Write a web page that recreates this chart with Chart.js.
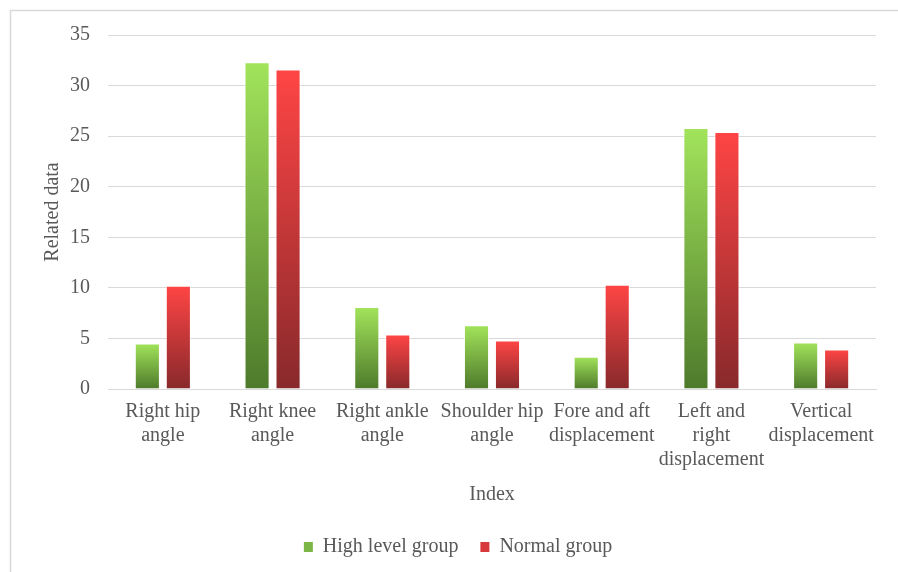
<!DOCTYPE html>
<html>
<head>
<meta charset="utf-8">
<script src="https://cdn.jsdelivr.net/npm/chart.js@4/dist/chart.umd.min.js"></script>
<style>
  html, body { margin: 0; padding: 0; background: #ffffff; overflow: hidden; }
  #wrap { width: 898px; height: 572px; position: relative; }
</style>
</head>
<body>
<div id="wrap"><canvas id="chart" width="898" height="572"></canvas></div>
<script>
// Motion-analysis indices compared between the two groups
const categories = [
  ['Right hip', 'angle'],
  ['Right knee', 'angle'],
  ['Right ankle', 'angle'],
  ['Shoulder hip', 'angle'],
  ['Fore and aft', 'displacement'],
  ['Left and', 'right', 'displacement'],
  ['Vertical', 'displacement']
];
const highLevelGroup = [4.5, 32.3, 8.1, 6.3, 3.2, 25.8, 4.6];
const normalGroup    = [10.2, 31.6, 5.4, 4.8, 10.3, 25.4, 3.9];
const yTicks = [0, 5, 10, 15, 20, 25, 30, 35];

const FONT = "'Liberation Serif', 'Times New Roman', serif";
const TEXT = '#595959';
const GRID = '#d9d9d9';

const GREEN = { top: '#a2e45b', bottom: '#4e7a2b', flat: '#7cb646' };
const RED   = { top: '#ff4545', bottom: '#88292b', flat: '#d83a3c' };

// Vertical gradient per bar, from its top down to the zero line
function barFill(pal) {
  return (ctx) => {
    const chart = ctx.chart;
    if (ctx.type !== 'data' || !chart.chartArea || !chart.scales.y || typeof ctx.raw !== 'number') return pal.flat;
    const y = chart.scales.y;
    const top = y.getPixelForValue(ctx.raw);
    const base = y.getPixelForValue(0);
    const g = chart.ctx.createLinearGradient(0, top, 0, base);
    g.addColorStop(0, pal.top);
    g.addColorStop(1, pal.bottom);
    return g;
  };
}

// Light outer frame of the chart object
const framePlugin = {
  id: 'frame',
  beforeDraw(chart) {
    const c = chart.ctx;
    c.save();
    c.fillStyle = '#ffffff';
    c.fillRect(0, 0, chart.width, chart.height);
    c.strokeStyle = GRID;
    c.lineWidth = 1.5;
    c.beginPath();
    c.moveTo(10.5, chart.height);
    c.lineTo(10.5, 10.5);
    c.lineTo(chart.width, 10.5);
    c.stroke();
    c.restore();
  }
};

const palettes = [GREEN, RED];

new Chart(document.getElementById('chart'), {
  type: 'bar',
  data: {
    labels: categories,
    datasets: [
      {
        label: 'High level group',
        data: highLevelGroup,
        backgroundColor: barFill(GREEN),
        borderColor: 'rgba(255,255,255,0.7)',
        borderWidth: 1,
        barPercentage: 0.81,
        categoryPercentage: 0.565
      },
      {
        label: 'Normal group',
        data: normalGroup,
        backgroundColor: barFill(RED),
        borderColor: 'rgba(255,255,255,0.7)',
        borderWidth: 1,
        barPercentage: 0.81,
        categoryPercentage: 0.565
      }
    ]
  },
  options: {
    responsive: false,
    animation: false,
    layout: { padding: { left: 40, right: 22, top: 35, bottom: 5 } },
    plugins: {
      legend: {
        position: 'bottom',
        labels: {
          boxWidth: 9,
          boxHeight: 10,
          padding: 22,
          color: TEXT,
          font: { family: FONT, size: 20 },
          generateLabels(chart) {
            return chart.data.datasets.map((ds, i) => ({
              text: ds.label,
              fillStyle: palettes[i].flat,
              strokeStyle: palettes[i].flat,
              lineWidth: 0,
              fontColor: TEXT,
              hidden: false,
              datasetIndex: i
            }));
          }
        }
      },
      tooltip: { enabled: false }
    },
    scales: {
      x: {
        grid: { display: false, drawTicks: false },
        border: { display: true, color: GRID, width: 1 },
        ticks: {
          color: TEXT,
          font: { family: FONT, size: 20, lineHeight: 1.2 },
          padding: 11,
          maxRotation: 0,
          autoSkip: false
        },
        title: {
          display: true,
          text: 'Index',
          color: TEXT,
          font: { family: FONT, size: 20, lineHeight: 1.2 },
          padding: { top: 0, bottom: 8 }
        }
      },
      y: {
        min: 0,
        max: 35,
        afterFit(scale) { scale.width = 68; },
        afterBuildTicks(scale) { scale.ticks = yTicks.map(v => ({ value: v })); },
        grid: { color: GRID, lineWidth: 1, drawTicks: false },
        border: { display: false },
        ticks: {
          color: TEXT,
          font: { family: FONT, size: 20 },
          padding: 18
        },
        title: {
          display: true,
          text: 'Related data',
          color: TEXT,
          font: { family: FONT, size: 20, lineHeight: 1.2 },
          padding: { top: 1, bottom: 0 }
        }
      }
    }
  },
  plugins: [framePlugin]
});
</script>
</body>
</html>
